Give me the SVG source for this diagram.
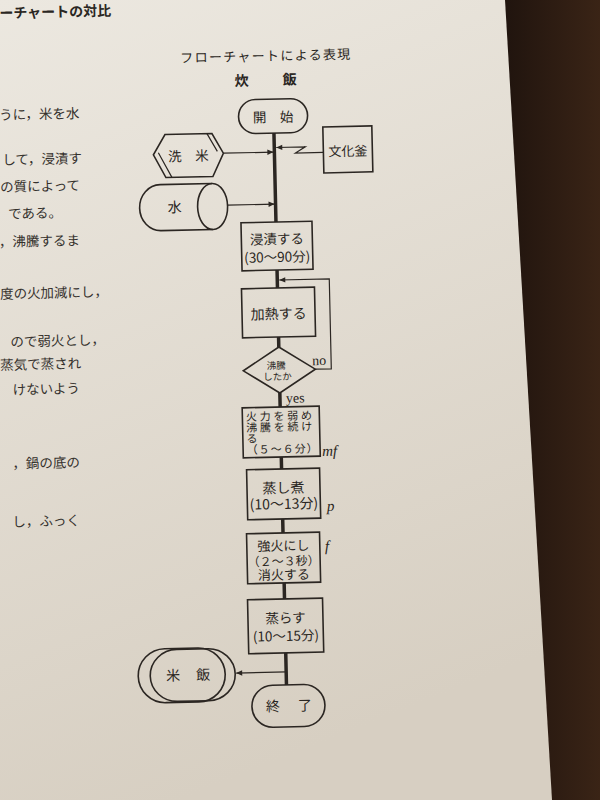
<svg xmlns="http://www.w3.org/2000/svg" width="600" height="800" viewBox="0 0 600 800">
<defs>
  <linearGradient id="paper" x1="0" y1="0" x2="0.3" y2="1">
    <stop offset="0" stop-color="#ece8e0"/>
    <stop offset="1" stop-color="#d7cfc2"/>
  </linearGradient>
  <linearGradient id="wood" x1="0" y1="0" x2="1" y2="0">
    <stop offset="0" stop-color="#20140e"/>
    <stop offset="1" stop-color="#3a2416"/>
  </linearGradient>
  <marker id="ah" viewBox="0 0 10 10" refX="10" refY="5" markerWidth="7" markerHeight="6" orient="auto" markerUnits="userSpaceOnUse">
    <path d="M0,0.5 L10,5 L0,9.5 z" fill="#2b2622"/>
  </marker>
  <style>
    .box{fill:none;stroke:#2b2622;stroke-width:1.6}
    .main{fill:none;stroke:#2b2622;stroke-width:3.5}
    .c{fill:none;stroke:#2b2622;stroke-width:1.2}
    .jp{font-family:'Noto Sans CJK JP',sans-serif;fill:#2a2622;dominant-baseline:central}
    .m{text-anchor:middle}
    .body{font-size:13.5px;text-anchor:end;fill:#35312d}
    .serif{font-family:'Liberation Serif',serif;fill:#2a2622}
  </style>
</defs>
<rect x="0" y="0" width="600" height="800" fill="url(#paper)"/>
<polygon points="505,0 600,0 600,800 552,800" fill="url(#wood)"/>

<g id="page" transform="rotate(-1.3 280 400)">
  <g id="side-text" class="jp">
    <text x="120" y="6" font-size="14" font-weight="bold" text-anchor="end">ーチャートの対比</text>
    <text class="jp body" x="86" y="107.6">うに，米を水</text>
    <text class="jp body" x="87.5" y="152.6">して，浸漬す</text>
    <text class="jp body" x="84.9" y="179.6">の質によって</text>
    <text class="jp body" x="66.3" y="206.6">である。</text>
    <text class="jp body" x="83.6" y="234.6">，沸騰するま</text>
    <text class="jp body" x="110.5" y="286.6">度の火加減にし，</text>
    <text class="jp body" x="106.4" y="334.6">ので弱火とし，</text>
    <text class="jp body" x="82" y="357.6">蒸気で蒸され</text>
    <text class="jp body" x="80.3" y="382.6">けないよう</text>
    <text class="jp body" x="78.6" y="456.6">，鍋の底の</text>
    <text class="jp body" x="77.3" y="514.6">し，ふっく</text>
  </g>

  <g id="title">
    <text class="jp m" x="273" y="55" font-size="13" textLength="170" lengthAdjust="spacing">フローチャートによる表現</text>
    <text class="jp m" x="249" y="79" font-size="14" font-weight="bold">炊</text>
    <text class="jp m" x="297" y="79" font-size="14" font-weight="bold">飯</text>
  </g>

  <g id="connectors">
    <path class="main" d="M280,133 V222 M280,270 V288 M280,337 V347 M280,393 V407 M280,457 V469 M280,519 V533 M280,583 V599 M280,653 V685"/>
    <path class="c" d="M229,152 H279" marker-end="url(#ah)"/>
    <path class="c" d="M232,204 H279" marker-end="url(#ah)"/>
    <path class="c" d="M329,153.5 H301 L311,147.5 H282" marker-end="url(#ah)"/>
    <path class="c" d="M316,370 H332 V280 H282" marker-end="url(#ah)"/>
    <path class="c" d="M280,672 H230" marker-end="url(#ah)"/>
    <text class="serif" x="313" y="366" font-size="14">no</text>
    <text class="serif" x="286" y="403" font-size="14">yes</text>
  </g>

  <g id="start">
    <rect class="box" x="245" y="99" width="69" height="34" rx="17"/>
    <text class="jp m" x="279.5" y="116" font-size="13.5">開　始</text>
  </g>

  <g id="wash-rice">
    <polygon class="box" points="171,132 218,132 229,152 218,175 171,175 159,152"/>
    <path class="c" d="M213,132 L223,150 M164,150 L177,175"/>
    <text class="jp m" x="194" y="153" font-size="13.5">洗　米</text>
  </g>

  <g id="water">
    <path class="box" d="M217,182 H165 A21,23 0 0 0 165,228 H217"/>
    <ellipse class="box" cx="217" cy="205" rx="15" ry="23"/>
    <text class="jp m" x="179" y="204" font-size="14">水</text>
  </g>

  <g id="rice-cooker">
    <rect class="box" x="329" y="128" width="49" height="46"/>
    <text class="jp m" x="353.5" y="152" font-size="13">文化釜</text>
  </g>

  <g id="soak">
    <rect class="box" x="245" y="222" width="71" height="48"/>
    <text class="jp m" x="280.5" y="238" font-size="13.5">浸漬する</text>
    <text class="jp m" x="280.5" y="256" font-size="13.5">(30〜90分)</text>
  </g>

  <g id="heat">
    <rect class="box" x="244" y="288" width="73" height="49"/>
    <text class="jp m" x="280.5" y="313" font-size="14">加熱する</text>
  </g>

  <g id="boiled">
    <polygon class="box" points="280,347 316,370 280,393 244,370"/>
    <text class="jp m" x="277" y="365" font-size="9.5">沸騰</text>
    <text class="jp m" x="278" y="376" font-size="9.5">したか</text>
  </g>

  <g id="reduce-heat">
    <rect class="box" x="242" y="407" width="77" height="50"/>
    <text class="jp" x="245.5" y="415" font-size="11" textLength="66" lengthAdjust="spacing">火力を弱め</text>
    <text class="jp" x="245.5" y="426" font-size="11" textLength="66" lengthAdjust="spacing">沸騰を続け</text>
    <text class="jp" x="245.5" y="437" font-size="11">る</text>
    <text class="jp" x="245.5" y="448" font-size="11" textLength="71" lengthAdjust="spacing">（５〜６分）</text>
    <text class="serif" x="321" y="457" font-size="15" font-style="italic">mf</text>
  </g>

  <g id="simmer">
    <rect class="box" x="245" y="469" width="73" height="50"/>
    <text class="jp m" x="281.5" y="487" font-size="14">蒸し煮</text>
    <text class="jp m" x="281.5" y="503" font-size="14">(10〜13分)</text>
    <text class="serif" x="324.5" y="512" font-size="15" font-style="italic">p</text>
  </g>

  <g id="high-heat">
    <rect class="box" x="243.5" y="533" width="73" height="50"/>
    <text class="jp m" x="280" y="545" font-size="13">強火にし</text>
    <text class="jp m" x="280" y="560" font-size="12">（２〜３秒）</text>
    <text class="jp m" x="280" y="574" font-size="13">消火する</text>
    <text class="serif" x="321.5" y="552" font-size="15" font-style="italic">f</text>
  </g>

  <g id="steam">
    <rect class="box" x="243" y="599" width="75" height="54"/>
    <text class="jp m" x="280.5" y="617" font-size="13.5">蒸らす</text>
    <text class="jp m" x="280.5" y="635" font-size="13.5">(10〜15分)</text>
  </g>

  <g id="cooked-rice">
    <path class="box" d="M159,646 H192 A27,27 0 0 1 192,700 H159 A27,27 0 0 1 159,646 Z"/>
    <path class="box" d="M171,647 H202 A27,26 0 0 1 202,699 H171 A27,26 0 0 1 171,647 Z"/>
    <text class="jp m" x="167" y="672" font-size="14">米</text>
    <text class="jp m" x="197" y="672" font-size="14">飯</text>
  </g>

  <g id="end">
    <rect class="box" x="245" y="685" width="73" height="42" rx="21"/>
    <text class="jp m" x="266" y="705" font-size="14">終</text>
    <text class="jp m" x="298" y="705" font-size="14">了</text>
  </g>
</g>
</svg>
